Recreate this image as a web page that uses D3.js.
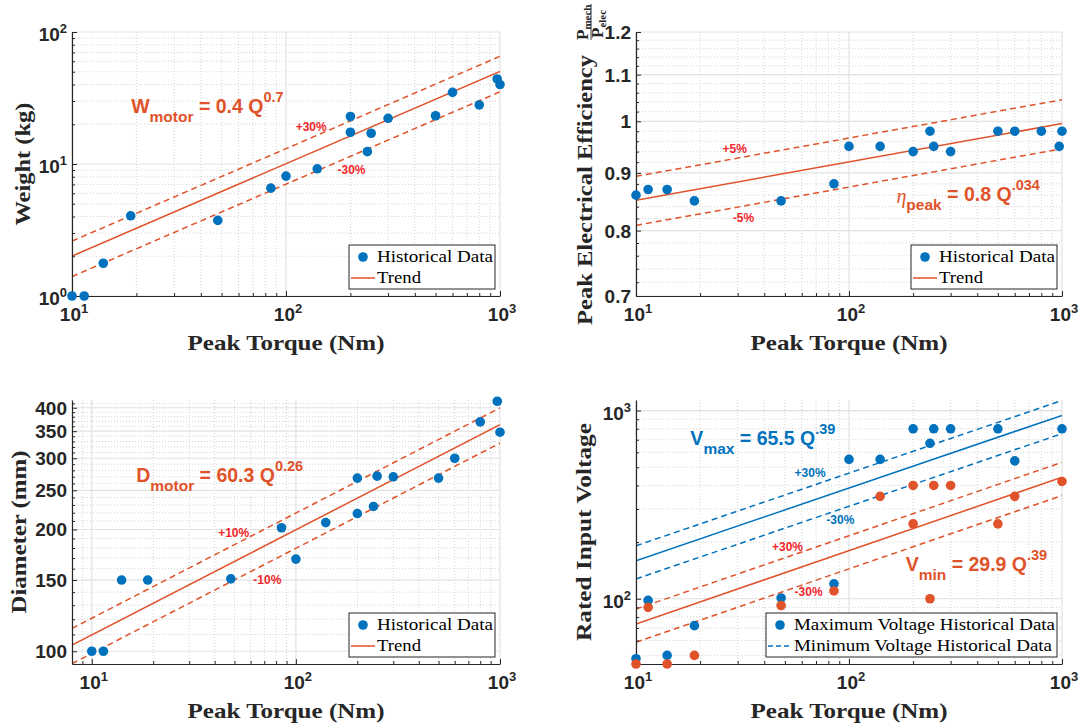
<!doctype html>
<html>
<head>
<meta charset="utf-8">
<title>motor trends</title>
<style>
  body { margin:0; background:#fff; }
  svg { display:block; }
  .tk { font-family:"Liberation Sans", Arial, sans-serif; font-weight:bold; font-size:19px; fill:#262626; }
  .axlab { font-family:"Liberation Serif", "DejaVu Serif", serif; font-weight:bold; font-size:21px; fill:#262626; }
  .leg { font-family:"Liberation Serif", "DejaVu Serif", serif; font-size:17px; fill:#000; }
  .eq { font-family:"Liberation Sans", Arial, sans-serif; font-weight:bold; }
  .pct { font-family:"Liberation Sans", Arial, sans-serif; font-weight:bold; font-size:12px; }
</style>
<script src="https://d3js.org/d3.v7.min.js"></script>
</head>
<body>
<svg id="fig" width="1080" height="726"></svg>
<script>

// weight vs peak torque
var wTorque  = [10, 11.4, 14, 18.8, 48, 85, 100, 140, 200, 200, 240, 250, 300, 500, 600, 800, 970, 1000]
var weightKg = [1.0, 1.0, 1.77, 4.05, 3.74, 6.56, 8.1, 9.2, 22.9, 17.4, 12.4, 17.1, 22.2, 23.2, 34.9, 28.0, 44.1, 40.0]

// peak electrical efficiency vs peak torque
var effTorque  = [10, 11.4, 14, 18.8, 48, 85, 100, 140, 200, 240, 250, 300, 500, 600, 800, 970, 1000]
var efficiency = [0.86, 0.87, 0.87, 0.85, 0.85, 0.88, 0.95, 0.95, 0.94, 0.98, 0.95, 0.94, 0.98, 0.98, 0.98, 0.95, 0.98]

// diameter vs peak torque
var diaTorque  = [10, 11.4, 14, 18.8, 48, 85, 100, 140, 200, 200, 240, 250, 300, 500, 600, 800, 970, 1000]
var diameterMm = [100, 100, 150, 150, 151, 202, 169, 208, 268, 219, 228, 271, 270, 268, 300, 369, 415, 348]

// rated input voltage vs peak torque
var vMaxTorque = [10, 11.4, 14, 18.8, 48, 85, 100, 140, 200, 240, 250, 300, 500, 600, 1000]
var vMax       = [48, 98, 50, 72, 101, 120, 550, 550, 800, 670, 800, 800, 800, 540, 800]
var vMinTorque = [10, 11.4, 14, 18.8, 48, 85, 140, 200, 200, 240, 250, 300, 500, 600, 1000]
var vMin       = [45, 90, 45, 50, 92, 110, 350, 400, 250, 100, 400, 400, 250, 350, 420]

// trend fits: [coefficient, exponent], band factors [upper, lower]
var wFit   = [0.4, 0.7],     wBand   = [1.3, 0.7]
var effFit = [0.787, 0.034], effBand = [1.05, 0.95]
var dFit   = [60.3, 0.26],   dBand   = [1.1, 0.9]
var vMaxFit = [65.5, 0.386], vMinFit = [29.9, 0.39], vBand = [1.2, 0.8]

// tick labels
var xTicks   = [10, 100, 1000]
var wTicks   = [1, 10, 100]
var effTicks = [0.7, 0.8, 0.9, 1, 1.1, 1.2]
var dTicks   = [100, 150, 200, 250, 300, 350, 400]
var vTicks   = [100, 1000]

var BLUE = "#0072BD", ORANGE = "#E0532A", RED = "#F2262A", AX = "#262626"
var svg = d3.select("#fig")

function pow10(g, d) {
  var e = Math.round(Math.log10(d))
  g.append("tspan").text("10")
  g.append("tspan").attr("font-size", "13px").attr("dy", -8).text(e)
}

function panel(p) {
  var g = svg.append("g")
  var x = d3.scaleLog().domain(p.xDomain).range([p.left, p.left + p.w])
  var y = d3.scaleLog().domain(p.yDomain).range([p.top + p.h, p.top])
  var xMinor = x.ticks().filter(function(d){ return p.xMajor.indexOf(d) < 0 })
  var yMinor = p.yMinor.filter(function(d){ return p.yMajor.indexOf(d) < 0 })

  // grid
  g.selectAll(".gxm").data(xMinor).join("line")
    .attr("x1", d => x(d)).attr("x2", d => x(d)).attr("y1", p.top).attr("y2", p.top + p.h)
    .attr("stroke", "#d4d4d4").attr("stroke-dasharray", "1,2")
  g.selectAll(".gym").data(yMinor).join("line")
    .attr("y1", d => y(d)).attr("y2", d => y(d)).attr("x1", p.left).attr("x2", p.left + p.w)
    .attr("stroke", "#d4d4d4").attr("stroke-dasharray", "1,2")
  g.selectAll(".gx").data(p.xMajor).join("line")
    .attr("x1", d => x(d)).attr("x2", d => x(d)).attr("y1", p.top).attr("y2", p.top + p.h)
    .attr("stroke", "#e2e2e2").attr("stroke-width", 1.2)
  g.selectAll(".gy").data(p.yMajor).join("line")
    .attr("y1", d => y(d)).attr("y2", d => y(d)).attr("x1", p.left).attr("x2", p.left + p.w)
    .attr("stroke", "#e2e2e2").attr("stroke-width", 1.2)

  // trend lines
  var cid = "clip" + p.id
  svg.append("clipPath").attr("id", cid).append("rect")
    .attr("x", p.left).attr("y", p.top).attr("width", p.w).attr("height", p.h)
  var lg = g.append("g").attr("clip-path", "url(#" + cid + ")")
  var line = d3.line().x(d => x(d[0])).y(d => y(d[1]))
  p.fits.forEach(function(f) {
    var qs = x.domain()
    var pts = function(k){ return qs.map(q => [q, k * f.fit[0] * Math.pow(q, f.fit[1])]) }
    lg.append("path").attr("d", line(pts(1))).attr("fill", "none")
      .attr("stroke", f.color).attr("stroke-width", 1.5)
    f.band.forEach(function(k) {
      lg.append("path").attr("d", line(pts(k))).attr("fill", "none")
        .attr("stroke", f.color).attr("stroke-width", 1.5).attr("stroke-dasharray", "6,4")
    })
  })

  // axes (ticks inside)
  var ax = g.append("g").attr("color", AX)
  ax.append("g").attr("transform", "translate(0," + (p.top + p.h) + ")")
    .call(d3.axisBottom(x).tickValues(p.xMajor).tickSizeInner(-5).tickSizeOuter(0).tickFormat(""))
  ax.append("g").attr("transform", "translate(0," + (p.top + p.h) + ")")
    .call(d3.axisBottom(x).tickValues(xMinor).tickSizeInner(-3).tickSizeOuter(0).tickFormat(""))
    .select(".domain").remove()
  ax.append("g").attr("transform", "translate(" + p.left + ",0)")
    .call(d3.axisLeft(y).tickValues(p.yMajor).tickSizeInner(-5).tickSizeOuter(0).tickFormat(""))
  ax.append("g").attr("transform", "translate(" + p.left + ",0)")
    .call(d3.axisLeft(y).tickValues(yMinor).tickSizeInner(-3).tickSizeOuter(0).tickFormat(""))
    .select(".domain").remove()
  ax.selectAll("path.domain").attr("stroke-width", 1.2)

  // tick labels
  p.xMajor.forEach(function(d) {
    var t = g.append("text").attr("class", "tk").attr("text-anchor", "middle")
      .attr("x", x(d) + 2).attr("y", p.top + p.h + 25)
    pow10(t, d)
  })
  p.yMajor.forEach(function(d) {
    var t = g.append("text").attr("class", "tk").attr("text-anchor", "end")
      .attr("x", p.left - 5)
    if (p.yPow) { t.attr("y", y(d) + 9); pow10(t, d) }
    else { t.attr("y", y(d) + 7).text(d) }
  })

  // points
  p.series.forEach(function(s) {
    g.selectAll(null).data(d3.zip(s.x, s.y)).join("circle")
      .attr("cx", d => x(d[0])).attr("cy", d => y(d[1])).attr("r", 4.8)
      .attr("fill", s.color)
  })

  // x label
  g.append("text").attr("class", "axlab").attr("text-anchor", "middle")
    .attr("x", p.left + p.w / 2).attr("y", p.top + p.h + 54)
    .attr("textLength", 197).attr("lengthAdjust", "spacingAndGlyphs")
    .text("Peak Torque (Nm)")

  // legend
  var L = p.legend
  var lw = L.width, lh = 44
  var lx = p.left + p.w - 5 - lw, ly = p.top + p.h - 7 - lh
  var leg = g.append("g").attr("transform", "translate(" + lx + "," + ly + ")")
  leg.append("rect").attr("width", lw).attr("height", lh).attr("fill", "#fff")
    .attr("stroke", AX).attr("stroke-width", 1)
  L.items.forEach(function(it, i) {
    var cy = 12 + i * 21
    if (it.kind === "dot") leg.append("circle").attr("cx", 14).attr("cy", cy).attr("r", 4.8).attr("fill", it.color)
    else leg.append("line").attr("x1", 2).attr("x2", 26).attr("y1", cy).attr("y2", cy)
      .attr("stroke", it.color).attr("stroke-width", 1.5)
      .attr("stroke-dasharray", it.kind === "dash" ? "5,3" : null)
    leg.append("text").attr("class", "leg").attr("x", 28).attr("y", cy + 5)
      .attr("textLength", it.len).attr("lengthAdjust", "spacingAndGlyphs").text(it.label)
  })

  // annotations
  p.notes.forEach(function(n) {
    var t = g.append("text").attr("x", x(n.at[0])).attr("y", y(n.at[1])).attr("fill", n.color)
    if (n.pct) { t.attr("class", "pct").text(n.pct); return }
    t.attr("class", "eq")
    n.parts.forEach(function(pt) {
      var s = t.append("tspan").attr("font-size", pt[1] + "px").text(pt[0])
      if (pt[2]) s.attr("dy", pt[2])
      if (pt[3]) s.attr("font-family", pt[3]).attr("font-style", "italic").attr("font-weight", "normal")
    })
  })

  return g
}

var lgHist = [
  { kind: "dot", color: BLUE, label: "Historical Data", len: 116 },
  { kind: "line", color: ORANGE, label: "Trend", len: 44 }
]

panel({
  id: 1, left: 72, top: 32, w: 428, h: 264,
  xDomain: [10, 1000], yDomain: [1, 100],
  xMajor: xTicks, yMajor: wTicks, yMinor: d3.scaleLog().domain([1, 100]).ticks(), yPow: true,
  series: [{ x: wTorque, y: weightKg, color: BLUE }],
  fits: [{ fit: wFit, band: wBand, color: ORANGE }],
  legend: { width: 146, items: lgHist },
  notes: [
    { at: [18.9, 24.3], color: ORANGE, parts: [["W", 19.5], ["motor", 15.5, 9], [" = 0.4 Q", 19.5, -9], ["0.7", 14.5, -11]] },
    { at: [111, 17.8], color: RED, pct: "+30%" },
    { at: [174, 8.4], color: RED, pct: "-30%" }
  ]
})

panel({
  id: 2, left: 636, top: 32, w: 426, h: 264,
  xDomain: [10, 1000], yDomain: [0.7, 1.2],
  xMajor: xTicks, yMajor: effTicks, yMinor: d3.range(70, 121, 2).map(d => d / 100), yPow: false,
  series: [{ x: effTorque, y: efficiency, color: BLUE }],
  fits: [{ fit: effFit, band: effBand, color: ORANGE }],
  legend: { width: 146, items: lgHist },
  notes: [
    { at: [25.5, 0.938], color: RED, pct: "+5%" },
    { at: [28.5, 0.814], color: RED, pct: "-5%" },
    { at: [167, 0.847], color: ORANGE, parts: [["\u03B7", 20, 0, "Liberation Serif"], ["peak", 15.5, 7], [" = 0.8 Q", 19.5, -9], [".034", 14.5, -11]] }
  ]
})

panel({
  id: 3, left: 72, top: 400, w: 428, h: 264,
  xDomain: [8, 1000], yDomain: [93, 418],
  xMajor: xTicks, yMajor: dTicks, yMinor: d3.range(100, 420, 10), yPow: false,
  series: [{ x: diaTorque, y: diameterMm, color: BLUE }],
  fits: [{ fit: dFit, band: dBand, color: ORANGE }],
  legend: { width: 146, items: lgHist },
  notes: [
    { at: [16.5, 261.6], color: ORANGE, parts: [["D", 19.5], ["motor", 15.5, 9], [" = 60.3 Q", 19.5, -9], ["0.26", 14.5, -11]] },
    { at: [41.6, 192], color: RED, pct: "+10%" },
    { at: [61.9, 146.5], color: RED, pct: "-10%" }
  ]
})

panel({
  id: 4, left: 636, top: 400, w: 426, h: 264,
  xDomain: [10, 1000], yDomain: [45, 1138],
  xMajor: xTicks, yMajor: vTicks, yMinor: d3.scaleLog().domain([45, 1138]).ticks(), yPow: true,
  series: [{ x: vMaxTorque, y: vMax, color: BLUE }, { x: vMinTorque, y: vMin, color: ORANGE }],
  fits: [{ fit: vMaxFit, band: vBand, color: BLUE }, { fit: vMinFit, band: vBand, color: ORANGE }],
  legend: { width: 291, items: [
    { kind: "dot", color: BLUE, label: "Maximum Voltage Historical Data", len: 261 },
    { kind: "dash", color: BLUE, label: "Minimum Voltage Historical Data", len: 258 }
  ] },
  notes: [
    { at: [18.0, 658], color: BLUE, parts: [["V", 19.5], ["max", 15.5, 9], [" = 65.5 Q", 19.5, -9], [".39", 14.5, -11]] },
    { at: [55.5, 441], color: BLUE, pct: "+30%" },
    { at: [78.3, 251], color: BLUE, pct: "-30%" },
    { at: [43.5, 179], color: RED, pct: "+30%" },
    { at: [55.5, 102.8], color: RED, pct: "-30%" },
    { at: [184.5, 140.6], color: ORANGE, parts: [["V", 19.5], ["min", 15.5, 9], [" = 29.9 Q", 19.5, -9], [".39", 14.5, -11]] }
  ]
})

// y labels
function ylab(cx, cy, label, len) {
  svg.append("text").attr("class", "axlab").attr("text-anchor", "middle")
    .attr("transform", "translate(" + cx + "," + cy + ") rotate(-90)")
    .attr("textLength", len).attr("lengthAdjust", "spacingAndGlyphs").text(label)
}
ylab(30, 164, "Weight (kg)", 123)
ylab(26, 532, "Diameter (mm)", 163)
ylab(591, 532, "Rated Input Voltage", 218)

var eg = svg.append("g").attr("transform", "translate(592,190) rotate(-90)")
eg.append("text").attr("class", "axlab").attr("text-anchor", "middle")
  .attr("textLength", 270).attr("lengthAdjust", "spacingAndGlyphs").text("Peak Electrical Efficiency")
var num = eg.append("text").attr("class", "axlab").attr("x", 150).attr("y", -4).attr("font-weight", "normal")
num.append("tspan").attr("font-size", "17px").text("P")
num.append("tspan").attr("font-size", "11px").attr("dy", 3).text("mech")
eg.append("line").attr("x1", 150).attr("x2", 186).attr("y1", -1).attr("y2", -1)
  .attr("stroke", AX).attr("stroke-width", 0.9)
var den = eg.append("text").attr("class", "axlab").attr("x", 152).attr("y", 11).attr("font-weight", "normal")
den.append("tspan").attr("font-size", "17px").text("P")
den.append("tspan").attr("font-size", "11px").attr("dy", 3).text("elec")

</script>
</body>
</html>
